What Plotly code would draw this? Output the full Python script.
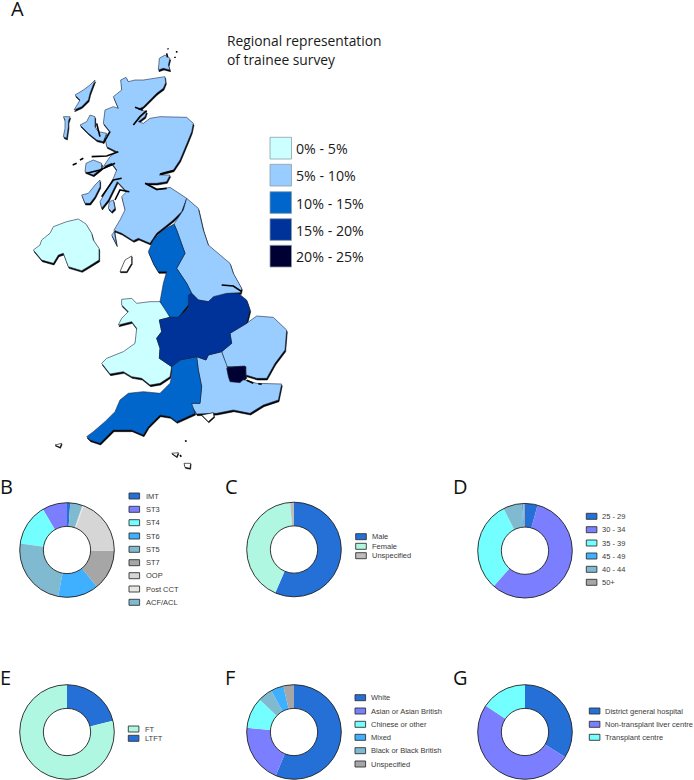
import numpy as np
import plotly.graph_objects as go

# ---------- map outlines, in map units (3 units = 1 screen pixel) ----------
SCOTLAND = [(362,240),(378,232),(385,245),(405,240),(430,240),(460,235),(495,230),(497,248),(490,265),(470,280),(450,300),(430,320),(415,328),(440,335),(435,350),(415,365),(430,370),(450,355),(480,350),(520,352),(560,352),(580,370),(575,395),(565,420),(555,445),(540,480),(520,510),(490,518),(478,525),(510,525),(500,545),(470,550),(435,550),(470,570),(510,562),(560,595),(545,635),(520,660),(495,680),(470,700),(450,730),(415,715),(400,722),(380,710),(365,700),(345,692),(335,705),(350,735),(342,690),(360,660),(375,630),(365,590),(380,575),(352,545),(340,570),(325,600),(305,625),(300,605),(320,570),(340,535),(350,510),(335,490),(310,500),(330,470),(350,455),(320,440),(315,410),(330,395),(310,370),(315,330),(340,320),(355,325),(340,290),(365,270)]
N_IRELAND = [(100,750),(120,735),(125,720),(150,700),(160,680),(200,665),(235,657),(258,672),(275,700),(280,720),(297,745),(297,780),(265,800),(245,812),(205,800),(190,760),(175,765),(160,790),(125,780)]
NORTH_EAST = [(560,595),(595,625),(610,690),(625,735),(690,790),(700,820),(725,865),(722,878),(690,880),(640,895),(625,905),(595,900),(575,880),(560,850),(530,805),(555,760),(530,690),(522,672),(550,630)]
NORTH_WEST = [(522,672),(530,690),(555,760),(530,805),(560,850),(575,880),(565,915),(535,952),(510,952),(480,905),(490,850),(500,815),(475,815),(460,790),(445,755),(460,720),(490,690)]
MIDLANDS = [(575,880),(595,900),(625,905),(640,890),(680,880),(715,880),(740,900),(750,930),(740,970),(690,1000),(695,1030),(665,1055),(625,1065),(618,1080),(590,1070),(540,1080),(515,1100),(478,1075),(480,1045),(470,1015),(485,995),(478,960),(510,952),(535,952),(565,925),(565,885)]
WALES = [(365,898),(395,895),(410,910),(450,905),(480,905),(500,930),(510,952),(478,960),(485,995),(470,1015),(480,1045),(478,1075),(515,1100),(510,1130),(480,1150),(450,1155),(425,1135),(395,1130),(370,1115),(330,1122),(305,1090),(320,1075),(370,1055),(405,1030),(410,985),(395,965),(355,975),(365,955),(385,935),(365,915)]
SOUTH_WEST = [(515,1100),(540,1080),(590,1070),(595,1110),(605,1160),(600,1210),(575,1210),(585,1240),(530,1265),(510,1250),(480,1245),(445,1280),(430,1305),(395,1290),(340,1290),(300,1330),(270,1320),(260,1310),(280,1295),(315,1265),(345,1235),(360,1200),(385,1180),(430,1175),(480,1180),(510,1150),(515,1130)]
SOUTH_EAST = [(590,1070),(618,1080),(625,1065),(665,1055),(672,1075),(680,1095),(690,1140),(735,1140),(770,1150),(845,1152),(835,1200),(790,1215),(750,1240),(700,1230),(650,1240),(615,1240),(590,1242),(570,1210),(600,1210),(605,1160),(595,1110)]
EAST = [(690,1000),(740,970),(770,948),(820,952),(860,990),(855,1050),(825,1090),(800,1135),(770,1135),(738,1125),(738,1100),(680,1100),(672,1075),(665,1055),(695,1030)]
LONDON = [(680,1105),(705,1100),(735,1098),(738,1130),(720,1148),(690,1145),(685,1130)]
ORKNEY = [(478,175),(495,165),(510,175),(505,195),(510,210),(490,205),(475,210)]
LEWIS = [(285,240),(270,255),(250,270),(225,285),(240,300),(222,330),(245,320),(265,300),(270,280)]
UIST = [(190,350),(210,350),(205,365),(205,380),(200,415),(190,410),(195,385),(195,360)]
SKYE = [(240,375),(260,365),(270,345),(285,350),(285,380),(295,395),(320,400),(310,425),(290,420),(265,400),(250,385)]
MULL = [(258,490),(280,480),(305,490),(305,505),(280,525),(255,515)]
ISLAY = [(245,585),(265,580),(285,555),(300,540),(300,560),(285,590),(270,610),(255,610)]
ARRAN = [(328,605),(340,600),(345,625),(335,635),(325,625)]
MAN = [(360,815),(375,780),(395,768),(395,790),(380,815)]
WIGHT = [(605,1245),(640,1238),(642,1250),(625,1265)]
SCILLY = [(165,1335),(185,1330),(180,1342)]
JERSEY = [(515,1360),(535,1358),(530,1370)]
GUERNSEY = [(552,1390),(572,1390),(570,1405),(555,1402)]

LAND_REGIONS = [
    (SCOTLAND, "#99CCFF"), (ORKNEY, "#99CCFF"), (LEWIS, "#99CCFF"), (UIST, "#99CCFF"),
    (SKYE, "#99CCFF"), (MULL, "#99CCFF"), (ISLAY, "#99CCFF"), (ARRAN, "#99CCFF"),
    (N_IRELAND, "#CCFFFF"), (WALES, "#CCFFFF"), (NORTH_EAST, "#99CCFF"), (EAST, "#99CCFF"),
    (SOUTH_EAST, "#99CCFF"), (NORTH_WEST, "#0066CC"), (SOUTH_WEST, "#0066CC"),
    (MIDLANDS, "#003399"), (LONDON, "#000033"),
]
WHITE_ISLANDS = [MAN, WIGHT, SCILLY, JERSEY, GUERNSEY]
INLETS = [
    [(400,375),(420,350),(440,332)], [(405,322),(428,330)], [(275,470),(320,468),(355,455)],
    [(260,520),(300,510),(345,490)], [(305,590),(340,540),(365,535)], [(435,550),(470,568),(500,565)],
    [(480,522),(520,512)], [(345,600),(360,570),(388,575)], [(218,495),(230,490)], [(240,480),(250,475)],
    [(665,855),(700,858),(725,875)], [(740,1141),(760,1150)], [(775,1151),(785,1153)],
    [(290,370),(300,410)], [(330,395),(310,430)], [(500,160),(503,172)], [(503,145),(505,148)],
    [(530,153),(530,158)], [(525,170),(525,174)], [(555,1324),(560,1322)], [(540,1365),(544,1370)],
]

# ---------- legend of the map ----------
MAP_TITLE = ["Regional representation", "of trainee survey"]
MAP_BINS = ["0% - 5%", "5% - 10%", "10% - 15%", "15% - 20%", "20% - 25%"]
MAP_COLOURS = ["#CCFFFF", "#99CCFF", "#0066CC", "#003399", "#000033"]

# ---------- doughnut data (drawing order) ----------
BLUE, PERI, CYAN, SKY, STEEL, GREY = "#2470D6", "#7B7FFF", "#73FFFF", "#3FB0FF", "#80BAD0", "#A6A6A6"
LGREY, OFFW, AQUA = "#D6D6D6", "#E8E6E0", "#B0F7E2"

B_LABELS = ["IMT", "ST3", "ST4", "ST5", "ST6", "ST7", "OOP", "Post CCT", "ACF/ACL"]
B_VALUES = [1.1, 8.5, 14.3, 24.2, 13.9, 13.8, 19.5, 0.5, 4.2]
B_COLOURS = [BLUE, PERI, CYAN, STEEL, SKY, GREY, LGREY, OFFW, STEEL]
B_ORDER = ["IMT", "ST3", "ST4", "ST6", "ST5", "ST7", "OOP", "Post CCT", "ACF/ACL"]

C_LABELS = ["Male", "Female", "Unspecified"]
C_VALUES = [56.5, 42.2, 1.3]
C_COLOURS = [BLUE, AQUA, "#BDBDBD"]

D_LABELS = ["25 - 29", "30 - 34", "35 - 39", "40 - 44", "45 - 49", "50+"]
D_VALUES = [4.3, 57.2, 31.0, 6.4, 0.5, 0.6]
D_COLOURS = [BLUE, PERI, CYAN, STEEL, SKY, GREY]
D_ORDER = ["25 - 29", "30 - 34", "35 - 39", "45 - 49", "40 - 44", "50+"]

E_LABELS = ["LTFT", "FT"]
E_VALUES = [21.2, 78.8]
E_COLOURS = [BLUE, AQUA]
E_ORDER = ["FT", "LTFT"]

F_LABELS = ["White", "Asian or Asian British", "Chinese or other", "Black or Black British", "Mixed", "Unspecified"]
F_VALUES = [56.3, 20.1, 10.6, 5.0, 4.4, 3.6]
F_COLOURS = [BLUE, PERI, CYAN, STEEL, SKY, GREY]
F_ORDER = ["White", "Asian or Asian British", "Chinese or other", "Mixed", "Black or Black British", "Unspecified"]

G_LABELS = ["District general hospital", "Non-transplant liver centre", "Transplant centre"]
G_VALUES = [33.9, 50.5, 15.6]
G_COLOURS = [BLUE, PERI, CYAN]

W, H = 694, 780
R = 47.3

PANELS = [
    dict(tag="B", tagx=0, tagy=486, cx=67, cy=550, labels=B_LABELS, values=B_VALUES, colours=B_COLOURS, order=B_ORDER,
         direction="counterclockwise", swx=129, txx=145.7, rows=[496, 509.3, 522.7, 536, 549.3, 562.7, 575.7, 589, 602.3]),
    dict(tag="C", tagx=225, tagy=486, cx=294, cy=549.5, labels=C_LABELS, values=C_VALUES, colours=C_COLOURS, order=C_LABELS,
         direction="clockwise", swx=355.7, txx=371.7, rows=[536.7, 546.3, 555.7]),
    dict(tag="D", tagx=453, tagy=486, cx=525, cy=550.7, labels=D_LABELS, values=D_VALUES, colours=D_COLOURS, order=D_ORDER,
         direction="clockwise", swx=586.3, txx=602, rows=[516.3, 529.7, 543, 556, 569.3, 582.3]),
    dict(tag="E", tagx=0, tagy=677, cx=67, cy=732, labels=E_LABELS, values=E_VALUES, colours=E_COLOURS, order=E_ORDER,
         direction="clockwise", swx=128.3, txx=144.7, rows=[729, 738.3]),
    dict(tag="F", tagx=225, tagy=677, cx=294, cy=732, labels=F_LABELS, values=F_VALUES, colours=F_COLOURS, order=F_ORDER,
         direction="clockwise", swx=355, txx=371, rows=[697.7, 711, 724.3, 737.3, 750.7, 764]),
    dict(tag="G", tagx=453, tagy=677, cx=525, cy=732, labels=G_LABELS, values=G_VALUES, colours=G_COLOURS, order=G_LABELS,
         direction="clockwise", swx=589.3, txx=605, rows=[711, 724.3, 737.3]),
]

fig = go.Figure()
shapes, annots = [], []


def poly(points, fill, line="#1c2a44", lw=0.6, dx=0, dy=0):
    arr = np.array(points + points[:1], dtype=float)
    fig.add_trace(go.Scatter(x=arr[:, 0] + dx, y=arr[:, 1] + dy, mode="lines", fill="toself", fillcolor=fill,
                             line=dict(color=line, width=lw), hoverinfo="skip", showlegend=False))


def text(x, y, s, size, font, colour, anchor="left"):
    annots.append(dict(x=x * 3, y=y * 3, xref="x", yref="y", text=s, showarrow=False, xanchor=anchor, yanchor="middle",
                       font=dict(family=font, size=size, color=colour), borderpad=0, borderwidth=0))


# coastline shadow first, then the regions
for pts, _ in LAND_REGIONS:
    poly(pts, "#000000", line="#000000", lw=0.5, dx=2, dy=5)
for pts, col in LAND_REGIONS:
    poly(pts, col)
for pts in WHITE_ISLANDS:
    poly(pts, "#000000", line="#000000", lw=0.5, dx=1.5, dy=3)
    poly(pts, "#FFFFFF", line="#000000", lw=0.6)
for seg in INLETS:
    arr = np.array(seg, dtype=float)
    fig.add_trace(go.Scatter(x=arr[:, 0], y=arr[:, 1], mode="lines", line=dict(color="#000000", width=1.6),
                             hoverinfo="skip", showlegend=False))

# map legend and title
SW_TOPS = [137.3, 164.3, 191.7, 218.7, 245.3]
for top, col, label in zip(SW_TOPS, MAP_COLOURS, MAP_BINS):
    shapes.append(dict(type="rect", xref="x", yref="y", x0=270 * 3, x1=291.5 * 3, y0=top * 3, y1=(top + 21.7) * 3,
                       fillcolor=col, line=dict(color="#8aa0a8", width=0.8), layer="above"))
    text(296, top + 11.5, label, 14.2, "Open Sans", "#1a1a1a")
text(226.5, 40, MAP_TITLE[0], 13.8, "Open Sans", "#1a1a1a")
text(226.5, 59.5, MAP_TITLE[1], 13.8, "Open Sans", "#1a1a1a")
text(11, 8, "A", 20, "Open Sans", "#111111")

# doughnuts
for p in PANELS:
    fig.add_trace(go.Pie(labels=p["labels"], values=p["values"], hole=0.5, sort=False, direction=p["direction"],
                         rotation=0, textinfo="none", hoverinfo="label+percent", showlegend=False,
                         marker=dict(colors=p["colours"], line=dict(width=0)),
                         domain=dict(x=[(p["cx"] - R) / W, (p["cx"] + R) / W],
                                     y=[1 - (p["cy"] + R) / H, 1 - (p["cy"] - R) / H])))
    for r in (R, R / 2):
        shapes.append(dict(type="circle", xref="x", yref="y", x0=(p["cx"] - r) * 3, x1=(p["cx"] + r) * 3,
                           y0=(p["cy"] - r) * 3, y1=(p["cy"] + r) * 3, line=dict(color="#222222", width=0.9),
                           layer="above"))
    colour_of = dict(zip(p["labels"], p["colours"]))
    for y, label in zip(p["rows"], p["order"]):
        shapes.append(dict(type="rect", xref="x", yref="y", x0=p["swx"] * 3, x1=(p["swx"] + 10.6) * 3,
                           y0=(y - 3) * 3, y1=(y + 3) * 3, fillcolor=colour_of[label],
                           line=dict(color="#333333", width=0.9), layer="above"))
        text(p["txx"], y, label, 7.5, "Liberation Sans", "#3a3a3a")
    text(p["tagx"], p["tagy"], p["tag"], 20, "Open Sans", "#111111")

fig.update_layout(
    width=W, height=H, margin=dict(l=0, r=0, t=0, b=0), paper_bgcolor="white", plot_bgcolor="white",
    xaxis=dict(range=[0, W * 3], visible=False, fixedrange=True),
    yaxis=dict(range=[H * 3, 0], visible=False, fixedrange=True),
    shapes=shapes, annotations=annots, showlegend=False,
)
fig.write_html("out.html", config=dict(displayModeBar=False),
               post_script="document.body.style.margin='0';document.body.style.overflow='hidden';")
